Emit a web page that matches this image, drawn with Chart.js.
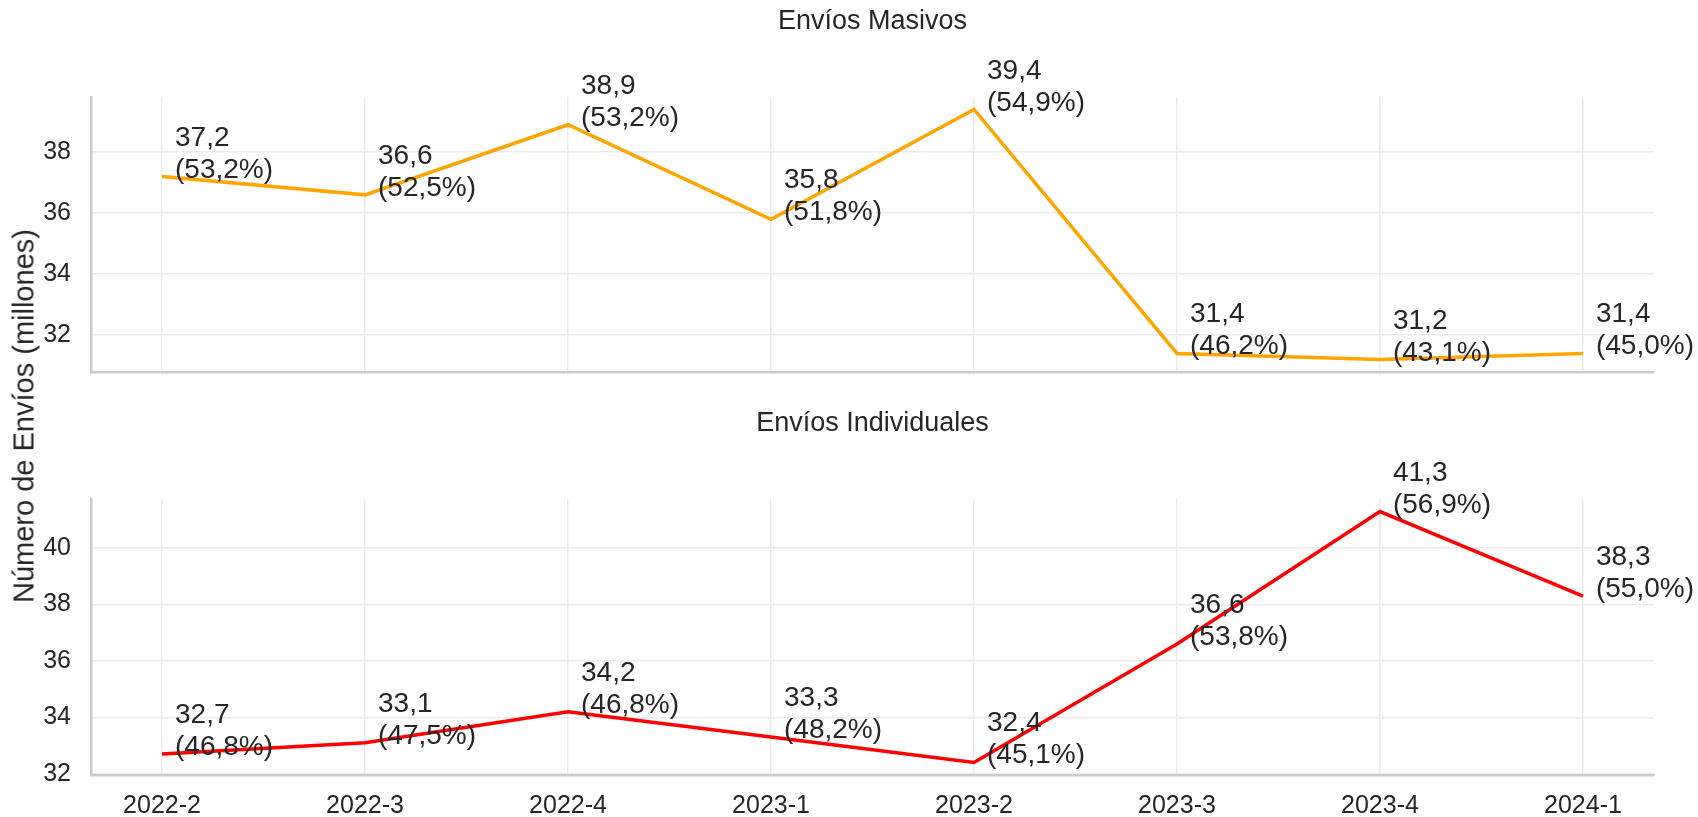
<!DOCTYPE html>
<html lang="es">
<head>
<meta charset="utf-8">
<title>Envíos Masivos e Individuales</title>
<script src="https://cdn.jsdelivr.net/npm/chart.js@4.4.1/dist/chart.umd.min.js"></script>
<style>
  html, body { margin: 0; padding: 0; background: #fff; }
  #wrap { position: relative; width: 1698px; height: 817px; overflow: hidden; }
  canvas { position: absolute; left: 0; }
  #c1 { top: 0; }
  #c2 { top: 402px; }
  #ylabel {
    position: absolute; left: 24px; top: 416px;
    transform: translate(-50%, -50%) rotate(-90deg);
    white-space: nowrap; line-height: 1;
    font: 29px 'Liberation Sans', Arial, sans-serif; color: #262626;
  }
</style>
</head>
<body>
<div id="wrap">
  <canvas id="c1" width="1698" height="400"></canvas>
  <canvas id="c2" width="1698" height="415"></canvas>
  <div id="ylabel">Número de Envíos (millones)</div>
</div>
<script>
// data
const quarters = ['2022-2', '2022-3', '2022-4', '2023-1', '2023-2', '2023-3', '2023-4', '2024-1'];
const masivos = [37.2, 36.6, 38.9, 35.8, 39.4, 31.4, 31.2, 31.4];
const masivosShare = [53.2, 52.5, 53.2, 51.8, 54.9, 46.2, 43.1, 45.0];
const individuales = [32.7, 33.1, 34.2, 33.3, 32.4, 36.6, 41.3, 38.3];
const individualesShare = [46.8, 47.5, 46.8, 48.2, 45.1, 53.8, 56.9, 55.0];
const yTicksMasivos = [32, 34, 36, 38];
const yTicksIndividuales = [32, 34, 36, 38, 40];

const FONT = "'Liberation Sans', Arial, sans-serif";
const TEXT = '#262626';
const GRID = '#EBEBEB';
const SPINE = '#CCCCCC';

const fmt = v => v.toFixed(1).replace('.', ',');

// value + share label next to each point
const pointLabels = {
  id: 'pointLabels',
  afterDatasetsDraw(chart, args, opts) {
    const ctx = chart.ctx;
    const ds = chart.data.datasets[0];
    const meta = chart.getDatasetMeta(0);
    ctx.save();
    ctx.font = '28px ' + FONT;
    ctx.fillStyle = TEXT;
    ctx.textAlign = 'left';
    ctx.textBaseline = 'alphabetic';
    meta.data.forEach((pt, i) => {
      const v = ds.data[i].y;
      ctx.fillText(fmt(v), pt.x + 13, pt.y - 31);
      ctx.fillText('(' + fmt(opts.shares[i]) + '%)', pt.x + 13, pt.y + 1);
    });
    ctx.restore();
  }
};

function margins(values) {
  const lo = Math.min(...values), hi = Math.max(...values);
  const pad = (hi - lo) * 0.05;
  return [lo - pad, hi + pad];
}

// keep label overhang out of the layout so the plot area stays put
function noPad(s) {
  s.paddingTop = 0; s.paddingBottom = 0; s.paddingLeft = 0; s.paddingRight = 0;
}

function makePanel(id, title, values, shares, color, yTicks, showX, xAxisHeight) {
  const [ymin, ymax] = margins(values);
  const xpad = (quarters.length - 1) * 0.05;
  return new Chart(document.getElementById(id), {
    type: 'line',
    data: {
      datasets: [{
        data: values.map((v, i) => ({ x: i, y: v })),
        borderColor: color,
        borderWidth: 3.5,
        pointRadius: 0,
        fill: false,
        tension: 0
      }]
    },
    options: {
      responsive: false,
      animation: false,
      events: [],
      layout: { padding: { left: 0, right: 44, top: 0, bottom: 0 } },
      plugins: {
        legend: { display: false },
        tooltip: { enabled: false },
        title: {
          display: true,
          fullSize: false,
          text: title,
          color: TEXT,
          font: { family: FONT, size: 27, weight: 'normal' },
          padding: { top: 5, bottom: 59.6 }
        },
        pointLabels: { shares: shares }
      },
      scales: {
        x: {
          type: 'linear',
          min: -xpad,
          max: quarters.length - 1 + xpad,
          afterBuildTicks: s => { s.ticks = quarters.map((q, i) => ({ value: i })); },
          afterFit: s => { s.height = xAxisHeight; noPad(s); },
          ticks: {
            display: showX,
            autoSkip: false,
            maxRotation: 0,
            padding: 16,
            color: TEXT,
            font: { family: FONT, size: 25 },
            callback: v => quarters[v]
          },
          grid: { color: GRID, lineWidth: 1.5, drawTicks: false },
          border: { color: SPINE, width: 2.5 }
        },
        y: {
          min: ymin,
          max: ymax,
          afterBuildTicks: s => { s.ticks = yTicks.map(v => ({ value: v })); },
          afterFit: s => { s.width = 91; noPad(s); },
          ticks: {
            padding: 20,
            color: TEXT,
            font: { family: FONT, size: 25 },
            callback: v => String(v)
          },
          grid: { color: GRID, lineWidth: 1.5, drawTicks: false },
          border: { color: SPINE, width: 2.5 }
        }
      }
    },
    plugins: [pointLabels]
  });
}

makePanel('c1', 'Envíos Masivos', masivos, masivosShare, '#FFA500', yTicksMasivos, false, 28);
makePanel('c2', 'Envíos Individuales', individuales, individualesShare, '#FF0000', yTicksIndividuales, true, 42);
</script>
</body>
</html>
